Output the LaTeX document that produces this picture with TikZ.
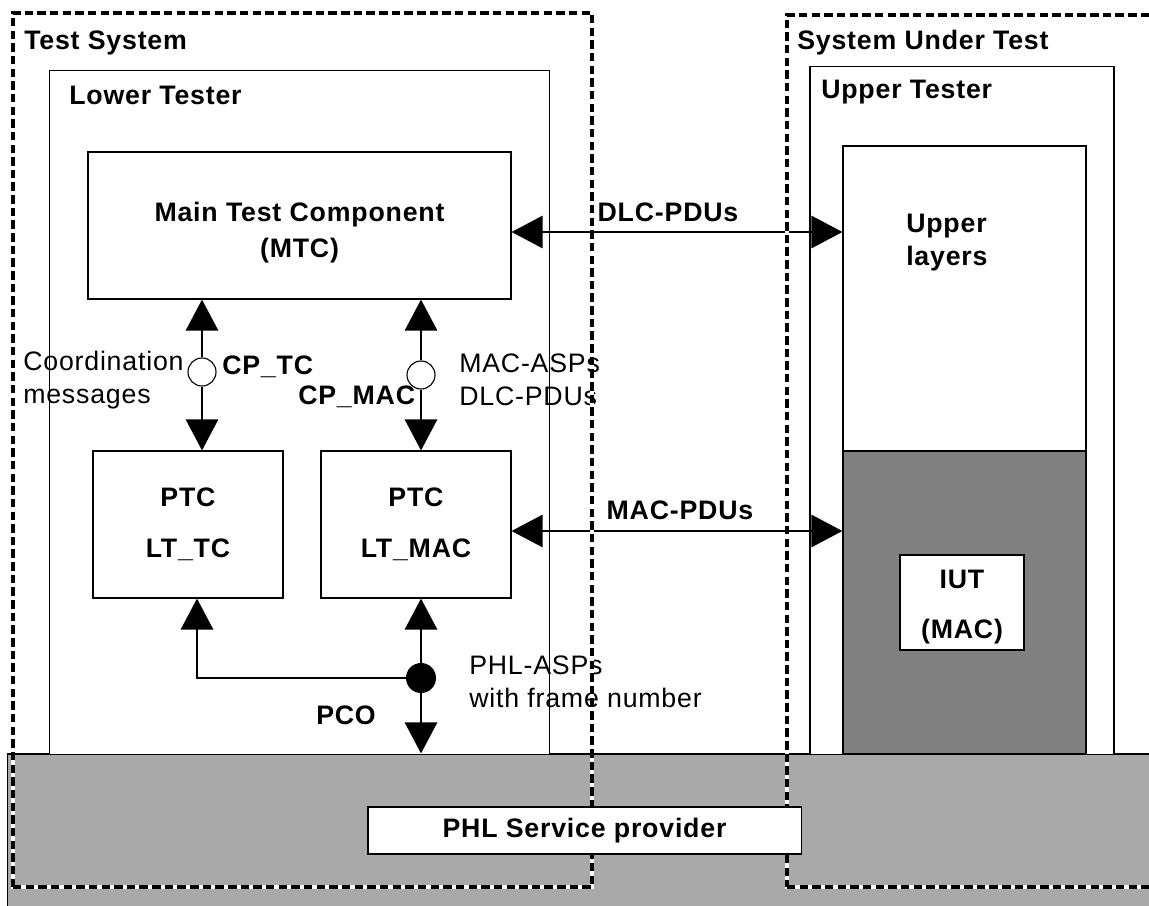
\documentclass[tikz,border=0pt]{standalone}
\usepackage{fontspec}
\setmainfont{Liberation Sans}[LetterSpace=3]
\usetikzlibrary{arrows.meta}
\definecolor{phlgrey}{HTML}{A9A9A9}
\definecolor{macgrey}{HTML}{808080}

\begin{document}
\begin{tikzpicture}[x=0.025cm,y=-0.025cm,
    font=\fontsize{19}{23.5}\selectfont,
    blk/.style={rectangle,draw=black,line width=0.8pt,fill=white},
    ttl/.style={inner sep=0pt,font=\fontsize{19}{23.5}\selectfont\bfseries},
    txt/.style={inner sep=0pt},
    port/.style={circle,draw=black,fill=white,line width=0.8pt,minimum size=0.7cm,inner sep=0pt},
    frame/.style={rectangle,draw=black,line width=2.8pt,dash pattern=on 6pt off 3pt,preaction={draw=white,solid}},
    link/.style={line width=1pt,-{Triangle[length=22pt,width=23pt]}},
    both/.style={line width=1pt,{Triangle[length=22pt,width=23pt]}-{Triangle[length=22pt,width=23pt]}}]

      \useasboundingbox (0,0) rectangle (1149,906);
      \clip (0,0) rectangle (1149,906);

      % physical layer underneath everything
      \node[rectangle,draw=black,line width=0.8pt,fill=phlgrey,minimum width=28.8cm,minimum height=4.4cm] (PHY) at (584,842){};

      % tester side
      \node[blk,minimum width=12.475cm,minimum height=17.075cm] (LT) at (299.5,412.5){};
      \node[ttl,anchor=west] at (69,95){Lower Tester};
      \node[blk,ttl,align=center,minimum width=10.575cm,minimum height=3.675cm] (MTC) at (299.5,225.5){\rule{0pt}{24pt}Main Test Component\\[2pt](MTC)};
      \node[blk,ttl,align=center,minimum width=4.75cm,minimum height=3.675cm] (PTCtc) at (188,524.5){PTC\\[13pt]LT\_TC};
      \node[blk,ttl,align=center,minimum width=4.75cm,minimum height=3.675cm] (PTCmac) at (416,524.5){PTC\\[13pt]LT\_MAC};

      % system under test
      \node[blk,minimum width=7.6cm,minimum height=17.175cm] (UT) at (962,410.5){};
      \node[ttl,anchor=west] at (821,92){Upper Tester};
      \node[blk,minimum width=6.075cm,minimum height=7.625cm] (UL) at (964.5,298.5){};
      \node[ttl,align=left,anchor=west] at (906,243){Upper\\layers};
      \node[blk,fill=macgrey,minimum width=6.075cm,minimum height=7.575cm] (MACL) at (964.5,602.5){};
      \node[blk,ttl,align=center,minimum width=3.1cm,minimum height=2.375cm] (IUT) at (962,602.5){\rule{0pt}{20pt}IUT\\[12pt](MAC)};

      % points of control
      \node[port] (CPtc) at (202,372){};
      \node[port] (CPmac) at (421,375){};
      \node[circle,fill=black,minimum size=0.75cm,inner sep=0pt] (PCO) at (421,678){};

      \coordinate (dlc) at (0,232);
      \coordinate (mac) at (0,531);

      \draw[link] (CPtc) -- (CPtc |- MTC.south);
      \draw[link] (CPtc) -- (CPtc |- PTCtc.north);
      \draw[link] (CPmac) -- (CPmac |- MTC.south);
      \draw[link] (CPmac) -- (CPmac |- PTCmac.north);
      \draw[link] (PCO) -- (PCO |- PTCmac.south);
      \draw[link] (PCO) -- (PCO |- PHY.north);
      \draw[link] (PCO) -| ([xshift=0.225cm]PTCtc.south);
      \draw[both] (MTC.east |- dlc) -- (UL.west |- dlc);
      \draw[both] (PTCmac.east |- mac) -- (MACL.west |- mac);

      \node[ttl] at (668,212){DLC-PDUs};
      \node[ttl] at (680,510){MAC-PDUs};
      \node[ttl,anchor=west] at (222,367){CP\_TC};
      \node[ttl,anchor=west] at (298,397){CP\_MAC};
      \node[ttl] at (346,715){PCO};
      \node[txt,align=left,anchor=west] at (23,380){Coordination\\messages};
      \node[txt,align=left,anchor=west] at (459,380){MAC-ASPs\\DLC-PDUs};
      \node[txt,align=left,anchor=west] at (469,682){PHL-ASPs\\with frame number};

      % the two dashed systems
      \node[frame,minimum width=14.475cm,minimum height=21.85cm] (TS) at (302.5,450){};
      \node[ttl,anchor=west] at (24,43){Test System};
      \node[frame,minimum width=10.075cm,minimum height=21.8cm] (SUT) at (988.5,451){};
      \node[ttl,anchor=west] at (797,43){System Under Test};

      \node[blk,ttl,minimum width=10.825cm,minimum height=1.175cm] (PHL) at (584.5,830.5){PHL Service provider};

    \end{tikzpicture}
\end{document}
